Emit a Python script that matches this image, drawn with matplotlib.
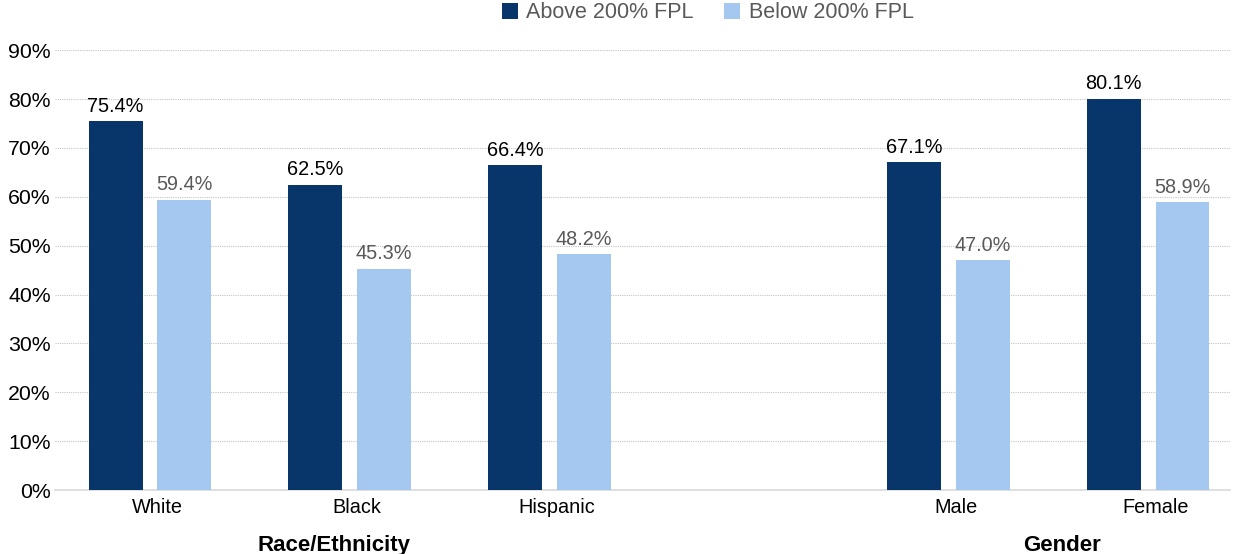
import numpy as np
import matplotlib
matplotlib.use('Agg')
import matplotlib.pyplot as plt

# Data
categories = ["White", "Black", "Hispanic", "Male", "Female"]
positions = [0, 1, 2, 4, 5]
above_fpl = [75.4, 62.5, 66.4, 67.1, 80.1]
below_fpl = [59.4, 45.3, 48.2, 47.0, 58.9]
groups = ["Race/Ethnicity", "Gender"]
group_centers = [0.92, 4.57]
yticks = [0, 10, 20, 30, 40, 50, 60, 70, 80, 90]

plt.rcParams['font.family'] = ['Liberation Sans', 'DejaVu Sans']

dark = "#08366A"
light = "#A4C8F0"

fig = plt.figure(figsize=(12.35, 5.54), dpi=100)
ax = fig.add_axes([0.0445, 0.1155, 0.9515, 0.794])

x = np.array(positions, dtype=float)
w = 0.27
off = 0.172
b1 = ax.bar(x - off, above_fpl, w, color=dark, label="Above 200% FPL", zorder=3)
b2 = ax.bar(x + off, below_fpl, w, color=light, label="Below 200% FPL", zorder=3)

# Value labels
for xi, v in zip(x - off, above_fpl):
    ax.text(xi, v + 1.1, "%.1f%%" % v, ha="center", va="bottom", fontsize=14.3, color="black")
for xi, v in zip(x + off, below_fpl):
    ax.text(xi, v + 1.1, "%.1f%%" % v, ha="center", va="bottom", fontsize=14.3, color="#595959")

ax.set_ylim(0, 90)
ax.set_xlim(-0.476, 5.41)
ax.set_yticks(yticks)
ax.set_yticklabels(["%d%%" % t for t in yticks], fontsize=15.3)
ax.yaxis.grid(True, linestyle=(0, (1, 1)), color="#C4C4C4", linewidth=0.8, zorder=0)
ax.set_xticks(x + 0.035)
ax.set_xticklabels(categories, fontsize=14.3)
ax.tick_params(axis="both", length=0)
ax.tick_params(axis="x", pad=6)
ax.tick_params(axis="y", pad=3)

for s in ["top", "right", "left"]:
    ax.spines[s].set_visible(False)
ax.spines["bottom"].set_color("#D9D9D9")
ax.spines["bottom"].set_linewidth(1.2)

# Group labels under the categories
for g, c in zip(groups, group_centers):
    ax.text(c, -11.3, g, ha="center", va="center", fontsize=16, fontweight="bold",
            transform=ax.transData, clip_on=False)

leg = fig.legend(handles=[b1, b2], loc="center", bbox_to_anchor=(0.573, 0.977), ncol=2,
                 frameon=False, fontsize=15.5, handlelength=0.75, handleheight=0.75,
                 handletextpad=0.4, columnspacing=1.4)
for t in leg.get_texts():
    t.set_color("#595959")

fig.savefig("out.png", dpi=100)
